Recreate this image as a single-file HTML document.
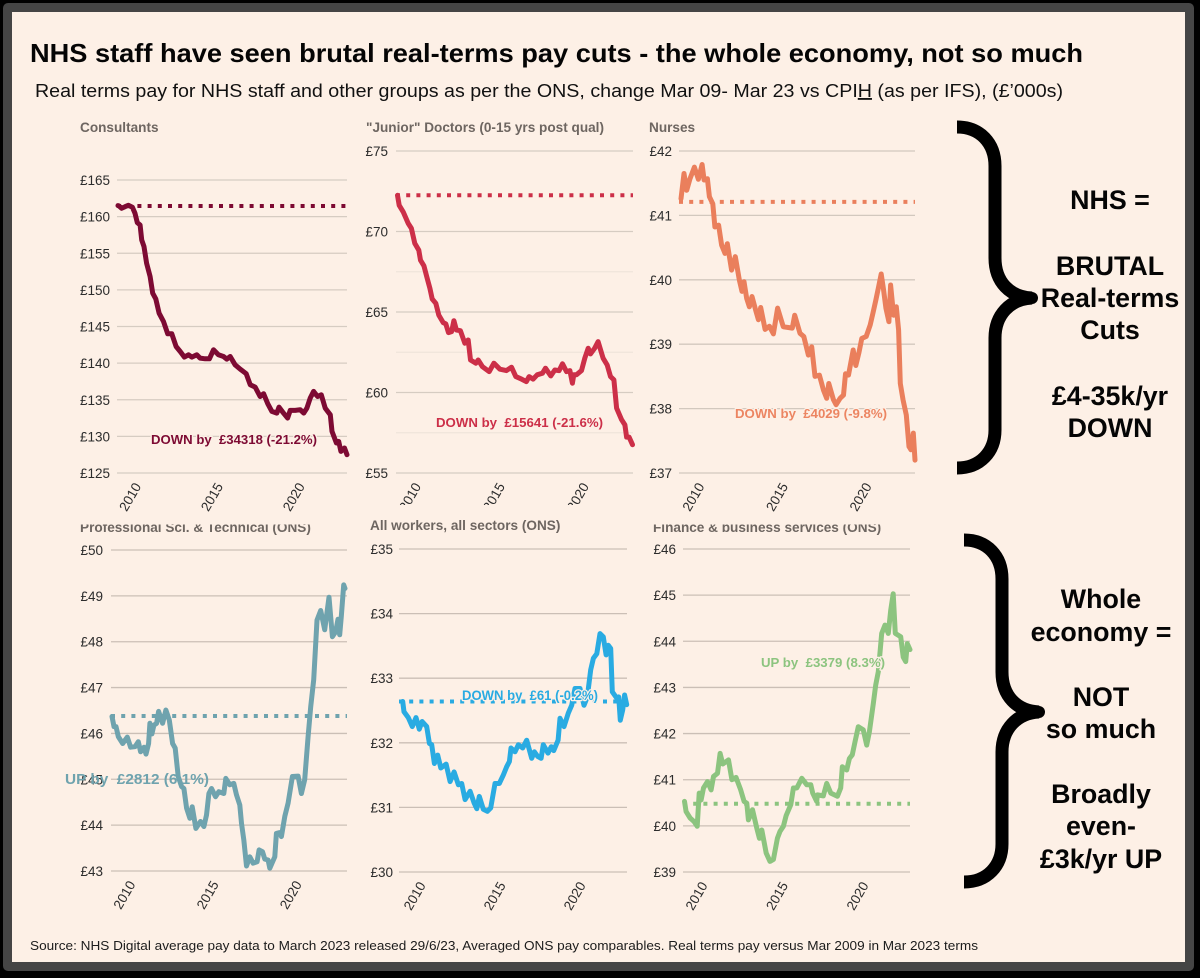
<!DOCTYPE html>
<html lang="en">
<head>
<meta charset="utf-8">
<title>NHS staff real-terms pay</title>
<style>
html,body{margin:0;padding:0;background:#000;}
svg{display:block;font-family:"Liberation Sans",sans-serif;}
.panel-title{font-size:13.6px;font-weight:bold;fill:#6e6661;}
.note{font-weight:bold;paint-order:stroke;stroke:#fdf0e6;stroke-width:2.5px;stroke-linejoin:round;}
.side{font-size:26.8px;font-weight:bold;fill:#050505;text-anchor:middle;}
</style>
</head>
<body>
<svg id="page" xmlns="http://www.w3.org/2000/svg" width="1200" height="978" viewBox="0 0 1200 978">
  <defs>
    <clipPath id="clip-top-titles"><rect x="0" y="524.5" width="1200" height="30"/></clipPath>
    <clipPath id="clip-axis-2"><rect x="350" y="474" width="290" height="31"/></clipPath>
  </defs>
  <rect x="0" y="0" width="1200" height="978" fill="#000"/>
  <rect x="3" y="3" width="1191" height="968" rx="5" fill="#454545"/>
  <rect x="12" y="12" width="1173" height="950" fill="#fdf0e6"/>

  <text x="30" y="62" font-size="26" font-weight="bold" fill="#050505" textLength="1053" lengthAdjust="spacingAndGlyphs">NHS staff have seen brutal real-terms pay cuts - the whole economy, not so much</text>
  <text x="35" y="97" font-size="18.4" fill="#111" textLength="1028" lengthAdjust="spacingAndGlyphs">Real terms pay for NHS staff and other groups as per the ONS, change Mar 09- Mar 23 vs CPI<tspan text-decoration="underline">H</tspan> (as per IFS), (£’000s)</text>

  <text class="panel-title" x="80" y="132">Consultants</text>
  <text class="panel-title" x="366" y="132">"Junior" Doctors (0-15 yrs post qual)</text>
  <text class="panel-title" x="649" y="132">Nurses</text>
  <text class="panel-title" x="80" y="532" clip-path="url(#clip-top-titles)">Professional Sci. &amp; Technical (ONS)</text>
  <text class="panel-title" x="370" y="530">All workers, all sectors (ONS)</text>
  <text class="panel-title" x="653" y="532" clip-path="url(#clip-top-titles)">Finance &amp; business services (ONS)</text>

  <g id="panels"></g>

  <text class="note" x="151" y="444" font-size="12.5" fill="#7d0a33" textLength="166" lengthAdjust="spacingAndGlyphs" xml:space="preserve">DOWN by  £34318 (-21.2%)</text>
  <text class="note" x="436" y="427" font-size="12.5" fill="#cc2f48" textLength="167" lengthAdjust="spacingAndGlyphs" xml:space="preserve">DOWN by  £15641 (-21.6%)</text>
  <text class="note" x="735" y="418" font-size="12.5" fill="#ec8562" textLength="152" lengthAdjust="spacingAndGlyphs" xml:space="preserve">DOWN by  £4029 (-9.8%)</text>
  <text x="65" y="784" font-size="15" font-weight="bold" fill="#6fa3ae" textLength="144" lengthAdjust="spacingAndGlyphs" xml:space="preserve">UP by  £2812 (6.1%)</text>
  <text class="note" x="462" y="700" font-size="13.5" fill="#29abe2" textLength="136" lengthAdjust="spacingAndGlyphs" xml:space="preserve">DOWN by  £61 (-0.2%)</text>
  <text class="note" x="761" y="667" font-size="13" fill="#8cc47f" textLength="124" lengthAdjust="spacingAndGlyphs" xml:space="preserve">UP by  £3379 (8.3%)</text>

  <g fill="none" stroke="#000" stroke-width="13">
    <path d="M957,127 C980,127 995,143 995,166 L995,258 C995,282 1010,297 1032,298 C1010,299 995,315 995,338 L995,430 C995,452 980,468 957,468"/>
    <circle cx="1032" cy="298" r="6" fill="#000" stroke="none"/>
  </g>
  <g fill="none" stroke="#000" stroke-width="13">
    <path d="M964,540 C987,540 1002,556 1002,579 L1002,672 C1002,696 1017,711 1039,712 C1017,713 1002,729 1002,752 L1002,844 C1002,866 987,882 964,882"/>
    <circle cx="1039" cy="712" r="6" fill="#000" stroke="none"/>
  </g>

  <g>
    <text class="side" x="1110" y="209">NHS =</text>
    <text class="side" x="1110" y="275">BRUTAL</text>
    <text class="side" x="1110" y="307">Real-terms</text>
    <text class="side" x="1110" y="339">Cuts</text>
    <text class="side" x="1110" y="405">£4-35k/yr</text>
    <text class="side" x="1110" y="437">DOWN</text>
  </g>
  <g>
    <text class="side" x="1101" y="608">Whole</text>
    <text class="side" x="1101" y="641">economy =</text>
    <text class="side" x="1101" y="706">NOT</text>
    <text class="side" x="1101" y="738">so much</text>
    <text class="side" x="1101" y="803">Broadly</text>
    <text class="side" x="1101" y="835">even-</text>
    <text class="side" x="1101" y="868">£3k/yr UP</text>
  </g>

  <text x="30" y="950" font-size="13" fill="#1c1c1c" textLength="948" lengthAdjust="spacingAndGlyphs">Source: NHS Digital average pay data to March 2023 released 29/6/23, Averaged ONS pay comparables. Real terms pay versus Mar 2009 in Mar 2023 terms</text>
</svg>

<script>
const xTickYears = [2010, 2015, 2020];

const consultantsTicks = [125, 130, 135, 140, 145, 150, 155, 160, 165];
const consultantsBaseline = 161.45;
const consultantsYears = [2009.25,2009.31,2009.47,2009.68,2009.88,2010.13,2010.29,2010.43,2010.6,2010.7,2010.84,2011,2011.21,2011.37,2011.56,2011.76,2012.03,2012.29,2012.54,2012.8,2013.05,2013.31,2013.56,2013.76,2014.07,2014.27,2014.58,2014.84,2015.09,2015.39,2015.7,2015.9,2016.11,2016.41,2016.72,2017.09,2017.33,2017.64,2017.94,2018.15,2018.41,2018.66,2018.96,2019.09,2019.37,2019.62,2019.78,2020.09,2020.39,2020.6,2020.8,2021,2021.21,2021.45,2021.68,2021.92,2022.23,2022.33,2022.6,2022.74,2022.88,2023.1,2023.25];
const consultantsPay = [161.5,161.45,161.14,161.36,161.55,161.27,160.45,159.18,158.86,156.82,155.91,153.64,151.82,149.55,148.77,146.82,145.68,144,144,142.27,141.59,140.82,141.14,140.82,141.14,140.68,140.59,140.59,141.82,141.14,140.91,140.55,140.91,139.77,139.18,138.55,137.05,136.73,135.45,135.82,134.45,133.41,133.18,134,133.18,132.5,133.55,133.55,133.64,133.18,133.86,135.23,136.14,135.45,135.68,133.86,132.95,130.68,129.09,129.32,127.95,128.41,127.5];

const juniorTicks = [55, 60, 65, 70, 75];
const juniorMinorTicks = [57.5, 62.5, 67.5];
const juniorBaseline = 72.25;
const juniorYears = [2009.25,2009.35,2009.59,2009.89,2010.08,2010.28,2010.52,2010.62,2010.82,2011.02,2011.18,2011.32,2011.53,2011.71,2011.97,2012.13,2012.29,2012.47,2012.61,2012.76,2013,2013.26,2013.46,2013.6,2013.92,2014.06,2014.31,2014.71,2014.99,2015.35,2015.74,2016.04,2016.3,2016.64,2016.93,2017.09,2017.33,2017.57,2017.89,2018.07,2018.38,2018.62,2018.88,2019.08,2019.32,2019.52,2019.67,2019.75,2019.91,2020.21,2020.41,2020.61,2020.75,2021,2021.2,2021.5,2021.74,2021.94,2022.14,2022.3,2022.6,2022.8,2022.9,2023.05,2023.25];
const juniorPay = [72.25,71.63,71.22,70.5,70.19,69.26,68.84,68.22,67.87,67.09,66.47,65.81,65.54,64.81,64.34,64.26,63.72,63.78,64.46,63.88,63.84,63.06,63.26,62.02,61.82,62.02,61.61,61.3,61.82,61.45,61.36,61.57,60.99,60.83,60.68,60.99,60.83,61.1,61.2,61.51,61.03,61.4,61.36,61.78,61.3,61.36,60.58,61.1,61.1,61.36,62.13,62.75,62.4,62.75,63.16,62.13,61.71,60.99,60.79,59.03,58.31,57.99,57.23,57.23,56.76];

const nursesTicks = [37, 38, 39, 40, 41, 42];
const nursesBaseline = 41.21;
const nursesYears = [2009.25,2009.43,2009.59,2009.79,2010.05,2010.29,2010.51,2010.63,2010.83,2010.95,2011.15,2011.28,2011.5,2011.68,2011.88,2012.02,2012.28,2012.5,2012.74,2012.9,2013.02,2013.18,2013.34,2013.5,2013.74,2013.88,2014.02,2014.28,2014.54,2014.78,2015.03,2015.37,2015.67,2015.91,2016.05,2016.37,2016.6,2016.87,2017.07,2017.27,2017.53,2017.77,2017.97,2018.09,2018.37,2018.53,2018.77,2018.97,2019.09,2019.27,2019.55,2019.71,2019.89,2020.07,2020.33,2020.57,2020.73,2020.91,2021.07,2021.23,2021.37,2021.51,2021.69,2021.79,2021.97,2022.13,2022.27,2022.37,2022.53,2022.73,2022.89,2023.01,2023.15,2023.25];
const nursesPay = [41.26,41.65,41.39,41.57,41.75,41.56,41.79,41.55,41.57,41.29,41.18,40.82,40.85,40.54,40.41,40.56,40.15,40.36,40,39.82,39.97,39.71,39.58,39.74,39.51,39.38,39.57,39.23,39.28,39.16,39.56,39.27,39.26,39.25,39.45,39.17,39.12,38.83,38.96,38.5,38.52,38.29,38.16,38.39,38.14,38.06,38.16,38.21,38.54,38.52,38.91,38.67,38.86,39.09,39.12,39.3,39.48,39.69,39.89,40.09,39.84,39.56,39.35,39.92,39.45,39.58,39.22,38.39,38.14,37.9,37.41,37.36,37.62,37.2];

const professionalTicks = [43, 44, 45, 46, 47, 48, 49, 50];
const professionalBaseline = 46.38;
const professionalYears = [2009.25,2009.37,2009.49,2009.63,2009.89,2010.17,2010.37,2010.63,2010.83,2010.97,2011.17,2011.29,2011.45,2011.53,2011.65,2011.77,2011.93,2012.05,2012.29,2012.49,2012.69,2012.89,2013.05,2013.23,2013.43,2013.57,2013.73,2013.93,2014.07,2014.29,2014.57,2014.77,2014.93,2015.07,2015.23,2015.47,2015.67,2015.97,2016.09,2016.33,2016.57,2016.73,2016.93,2017.03,2017.17,2017.33,2017.53,2017.73,2017.97,2018.09,2018.29,2018.43,2018.63,2018.73,2019.03,2019.13,2019.33,2019.43,2019.63,2019.83,2020.09,2020.43,2020.63,2020.83,2021.03,2021.19,2021.37,2021.57,2021.79,2022.03,2022.29,2022.49,2022.69,2022.83,2022.93,2023.03,2023.17,2023.25];
const professionalPay = [46.37,46.15,46.15,45.93,45.78,45.92,45.7,45.71,45.82,45.6,45.7,45.55,45.78,46.22,45.99,46.18,46.22,46.48,46.22,46.51,46.29,45.78,45.68,45.06,44.84,44.8,44.37,44.15,44.4,43.93,44.08,43.97,44.22,44.69,44.8,44.62,44.73,44.69,45.02,44.88,44.91,44.66,44.44,44.04,43.68,43.11,43.31,43.17,43.2,43.46,43.42,43.26,43.24,43.06,43.31,43.82,43.84,43.75,44.19,44.48,45.06,45.07,44.69,44.99,45.93,46.58,47.17,48.47,48.68,48.26,48.97,48.11,48.22,48.49,48.15,48.55,49.24,49.16];

const allWorkersTicks = [30, 31, 32, 33, 34, 35];
const allWorkersBaseline = 32.64;
const allWorkersYears = [2009.25,2009.33,2009.6,2009.85,2010.08,2010.29,2010.46,2010.75,2010.92,2011.06,2011.23,2011.44,2011.63,2011.96,2012.21,2012.46,2012.73,2012.94,2013.15,2013.46,2013.71,2013.88,2014.04,2014.29,2014.54,2014.75,2015.02,2015.29,2015.54,2015.75,2015.92,2016.02,2016.27,2016.48,2016.75,2017,2017.31,2017.48,2017.69,2017.9,2018.04,2018.33,2018.54,2018.69,2018.96,2019.08,2019.33,2019.6,2019.81,2020.02,2020.33,2020.58,2020.79,2021,2021.17,2021.38,2021.58,2021.79,2021.96,2022.1,2022.25,2022.35,2022.63,2022.75,2022.85,2023,2023.12,2023.25];
const allWorkersPay = [32.64,32.48,32.39,32.25,32.39,32.21,32.33,32.25,31.99,31.97,31.68,31.81,31.61,31.67,31.4,31.55,31.35,31.37,31.12,31.25,31.07,30.98,31.17,30.97,30.94,30.99,31.37,31.37,31.5,31.63,31.71,31.92,31.86,31.97,31.92,32.04,31.76,31.86,31.79,31.76,31.97,31.84,31.94,31.88,32.04,32.38,32.25,32.46,32.58,32.84,32.84,32.58,32.71,33.13,33.31,33.38,33.69,33.64,33.36,33.51,33.46,32.79,32.69,32.71,32.35,32.51,32.74,32.59];

const financeTicks = [39, 40, 41, 42, 43, 44, 45, 46];
const financeBaseline = 40.48;
const financeYears = [2009.25,2009.35,2009.6,2009.85,2010.04,2010.16,2010.28,2010.43,2010.68,2010.9,2011.05,2011.3,2011.46,2011.63,2011.98,2012.19,2012.45,2012.74,2012.95,2013.12,2013.22,2013.47,2013.74,2013.9,2014.05,2014.32,2014.56,2014.77,2015.02,2015.18,2015.39,2015.56,2015.85,2016.01,2016.22,2016.53,2016.84,2017.09,2017.21,2017.46,2017.5,2017.87,2018.08,2018.33,2018.74,2018.95,2019.05,2019.32,2019.49,2019.67,2019.84,2020.04,2020.35,2020.56,2020.73,2020.97,2021.12,2021.28,2021.49,2021.7,2021.9,2022.05,2022.21,2022.34,2022.67,2022.83,2022.98,2023.08,2023.25];
const financePay = [40.53,40.31,40.17,40.09,39.99,40.71,40.56,40.82,40.96,40.78,41.07,41.14,41.57,41.34,41.43,41,41.05,40.78,40.53,40.49,40.13,40.35,39.95,39.73,39.91,39.41,39.23,39.27,39.73,39.88,39.99,40.22,40.46,40.82,40.82,41.03,40.89,40.89,40.71,40.53,40.67,40.65,40.92,40.71,40.64,40.82,41.28,41.21,41.46,41.54,41.83,42.15,42.08,41.75,42.04,42.65,43.05,43.34,44.17,44.35,44.17,44.67,45.03,44.17,44.1,43.66,43.56,43.95,43.82];

const panelSlugs = ['consultants', 'junior-doctors', 'nurses', 'professional', 'all-workers', 'finance'];
const panelYears = [consultantsYears, juniorYears, nursesYears, professionalYears, allWorkersYears, financeYears];
const panelPay = [consultantsPay, juniorPay, nursesPay, professionalPay, allWorkersPay, financePay];
const panelTicks = [consultantsTicks, juniorTicks, nursesTicks, professionalTicks, allWorkersTicks, financeTicks];
const panelBaselines = [consultantsBaseline, juniorBaseline, nursesBaseline, professionalBaseline, allWorkersBaseline, financeBaseline];
const panelMinorTicks = [[], juniorMinorTicks, [], [], [], []];

// Layout (pixels) kept apart from the data.
const frames = [
  {gridLeft:117, gridRight:347, dataLeft:118, dataRight:347, top:180, bottom:473, labelRight:110, color:'#7d0a33', grid:'#d6ccc2'},
  {gridLeft:396, gridRight:633, dataLeft:397.5, dataRight:632.5, top:151, bottom:473, labelRight:388, color:'#cc2f48', grid:'#d6ccc2', clipAxis:true},
  {gridLeft:679, gridRight:915, dataLeft:681, dataRight:915, top:151, bottom:473, labelRight:672, color:'#ea7f5c', grid:'#d2c8be'},
  {gridLeft:111, gridRight:347, dataLeft:112, dataRight:345, top:550, bottom:871, labelRight:103, color:'#6fa3ae', grid:'#cbbfb6'},
  {gridLeft:399, gridRight:627, dataLeft:402.7, dataRight:626.7, top:549, bottom:872, labelRight:393, color:'#29abe2', grid:'#cbbfb6'},
  {gridLeft:683, gridRight:910, dataLeft:684.5, dataRight:910, top:549, bottom:872, labelRight:676, color:'#8cc47f', grid:'#cbbfb6'}
];

const SVG_NS = 'http://www.w3.org/2000/svg';
const panelsRoot = document.getElementById('panels');

function xScale(frame, year) {
  return frame.dataLeft + (year - 2009.25) / 14 * (frame.dataRight - frame.dataLeft);
}
function yScale(frame, ticks, value) {
  const lo = ticks[0], hi = ticks[ticks.length - 1];
  return frame.bottom - (value - lo) / (hi - lo) * (frame.bottom - frame.top);
}
function make(tag, attrs, parent) {
  const el = document.createElementNS(SVG_NS, tag);
  Object.keys(attrs).forEach(function (k) { el.setAttribute(k, attrs[k]); });
  parent.appendChild(el);
  return el;
}

panelSlugs.forEach(function (slug, i) {
  const frame = frames[i];
  const ticks = panelTicks[i];
  const g = make('g', {}, panelsRoot);
  
  

  panelMinorTicks[i].forEach(function (v) {
    const y = yScale(frame, ticks, v);
    const minor = make('line', {x1: frame.gridLeft, x2: frame.gridRight, y1: y, y2: y, stroke: '#efe5db', 'stroke-width': 1.2}, g);
    
    
  });

  ticks.forEach(function (v) {
    const y = yScale(frame, ticks, v);
    const line = make('line', {x1: frame.gridLeft, x2: frame.gridRight, y1: y, y2: y, stroke: frame.grid, 'stroke-width': 1.3}, g);
    
    
    const label = make('text', {x: frame.labelRight, y: y + 5, 'text-anchor': 'end', 'font-size': 13.5, fill: '#2c2c2c'}, g);
    
    
    label.textContent = '£' + v;
  });

  const axisGroup = make('g', {}, g);
  
  
  if (frame.clipAxis) axisGroup.setAttribute('clip-path', 'url(#clip-axis-2)');
  xTickYears.forEach(function (year) {
    const cx = xScale(frame, year);
    const cy = frame.bottom + 24;
    const label = make('text', {x: cx, y: cy + 4.5, 'text-anchor': 'middle', 'font-size': 13.5, fill: '#2c2c2c',
      transform: 'rotate(-60 ' + cx + ' ' + cy + ')'}, axisGroup);
    
    
    label.textContent = String(year);
  });

  const baseY = yScale(frame, ticks, panelBaselines[i]);
  const baseline = make('line', {x1: frame.gridLeft, x2: frame.gridRight, y1: baseY, y2: baseY, stroke: frame.color,
    'stroke-width': 4, 'stroke-dasharray': '4 6.2'}, g);
  
  

  const pts = panelYears[i].map(function (year, k) {
    return xScale(frame, year).toFixed(1) + ',' + yScale(frame, ticks, panelPay[i][k]).toFixed(1);
  }).join(' ');
  const series = make('polyline', {points: pts, fill: 'none', stroke: frame.color, 'stroke-width': 5,
    'stroke-linejoin': 'round', 'stroke-linecap': 'round'}, g);
  
  
});
</script>
</body>
</html>
